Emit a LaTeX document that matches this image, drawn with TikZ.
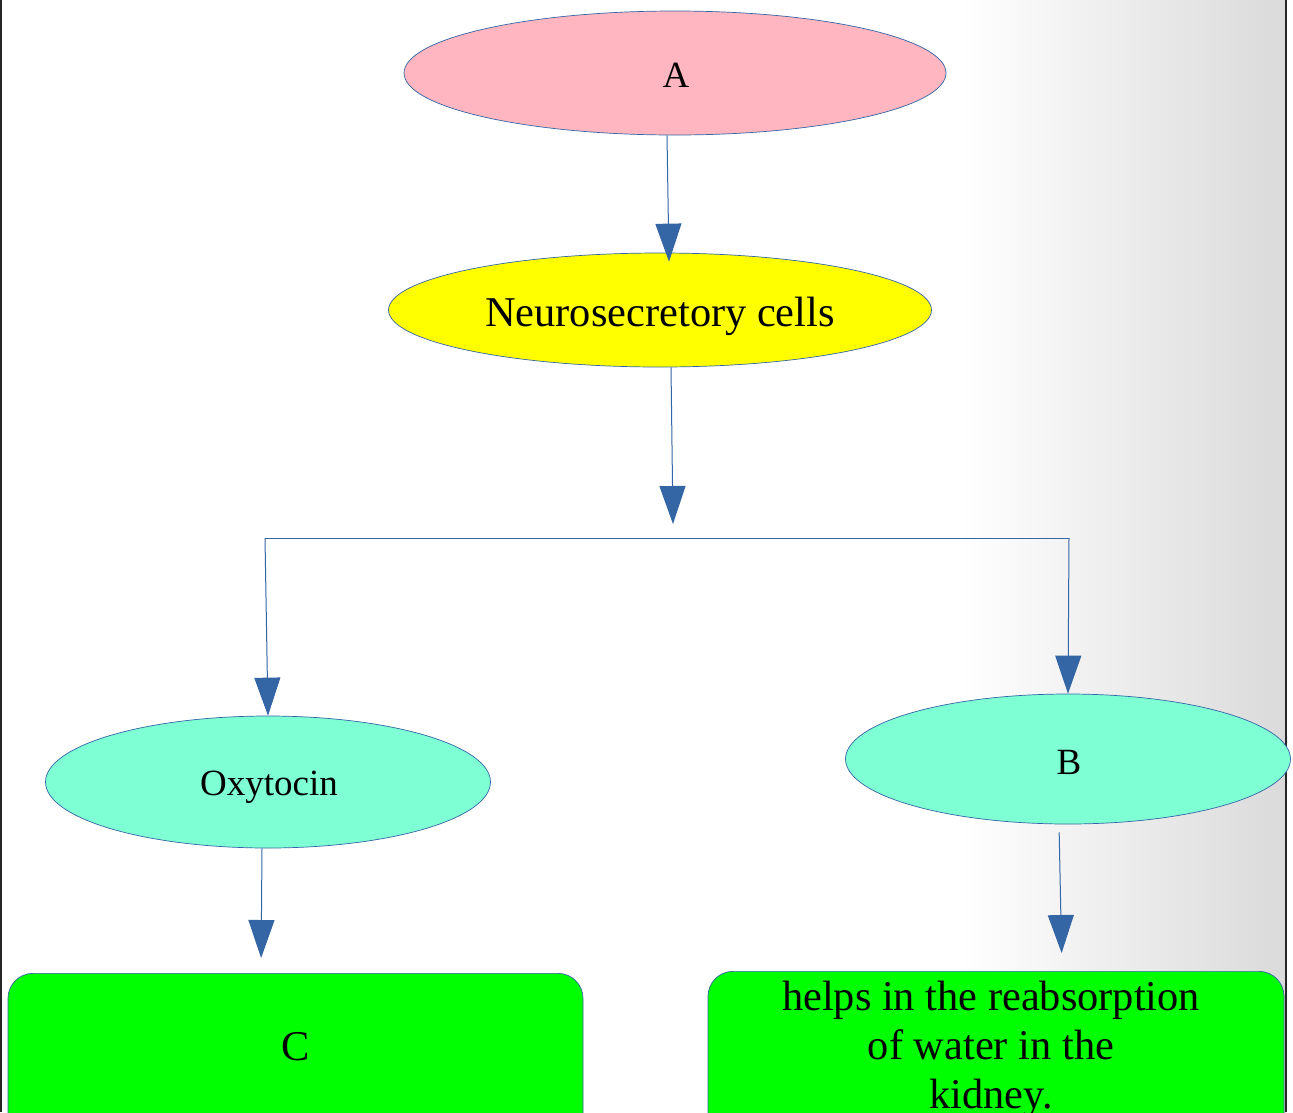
\documentclass[tikz,border=0pt]{standalone}
\usepackage{fontspec}
\setmainfont{Liberation Serif}
\usetikzlibrary{shapes.geometric,arrows.meta}
\definecolor{edgeblue}{HTML}{3465A4}
\definecolor{pinkfill}{HTML}{FFB6C1}
\definecolor{aqua}{HTML}{7FFFD4}
\definecolor{yel}{HTML}{FFFF00}
\definecolor{grn}{HTML}{00FF00}
\definecolor{gradgray}{RGB}{218,218,218}
\begin{document}
\begin{tikzpicture}[x=1pt,y=-1pt,
  ell/.style={ellipse, draw=edgeblue, line width=0.7pt, inner sep=0pt},
  gbox/.style={draw=edgeblue, fill=grn, rounded corners=25pt, line width=0.7pt, inner sep=0pt},
  conn/.style={draw=edgeblue, line width=1pt, -{Triangle[width=26pt,length=38pt]}},
  plain/.style={draw=edgeblue, line width=1pt},
  txt/.style={font=\fontsize{37}{44}\selectfont, inner sep=0pt},
  bigtxt/.style={font=\fontsize{42.4}{49}\selectfont, inner sep=0pt}]
\useasboundingbox (0,0) rectangle (1293,1112);
\clip (0,0) rectangle (1293,1112);
\fill[white] (0,0) rectangle (1293,1112);
\shade[left color=white, right color=gradgray] (960,0) rectangle (1286,1112);
\draw[line width=1.5pt, black!85] (1,0) -- (1,1112);
\draw[line width=1.5pt, black!85] (1286,0) -- (1286,1112);

% nodes
\node[ell, fill=pinkfill, minimum width=542, minimum height=124] (A) at (675,73) {};
\node[txt] (At) at (676,75) {A};
\node[ell, fill=yel, minimum width=543, minimum height=114] (N) at (660,310) {};
\node[bigtxt] (Nt) at (660,316) {Neurosecretory cells};
\node[ell, fill=aqua, minimum width=445, minimum height=132] (O) at (268,782) {};
\node[txt] (Ot) at (269,787) {Oxytocin};
\node[ell, fill=aqua, minimum width=445, minimum height=130] (B) at (1068,759) {};
\node[txt] (Bt) at (1069,762) {B};
\node[gbox, minimum width=575, minimum height=180, anchor=north] (Cbox) at (295.5,973) {};
\node[bigtxt] (Ct) at (296,1047) {C};
\node[gbox, minimum width=576, minimum height=180, anchor=north] (Hbox) at (996,971) {};
\node[bigtxt, align=center] (Ht) at (991,1049) {helps in the reabsorption\\of water in the\\kidney.};

% split coordinates
\coordinate (S) at (673,524);
\coordinate (L) at (265,538);
\coordinate (R) at (1069,538);

% connectors
\draw[conn] ([xshift=-8pt]A.south) -- ([xshift=9pt,yshift=-9pt]N.north);
\draw[conn] ([xshift=11pt]N.south) -- (S);
\draw[plain] (L) -- (R);
\draw[conn] (L) -- (O.north);
\draw[conn] (R) -- (B.north);
\draw[conn, shorten >=15pt] ([xshift=-6pt]O.south) -- ([xshift=-34.5pt]Cbox.north);
\draw[conn, shorten <=8pt, shorten >=18pt] ([xshift=-9pt]B.south) -- ([xshift=66pt]Hbox.north);
\end{tikzpicture}
\end{document}
